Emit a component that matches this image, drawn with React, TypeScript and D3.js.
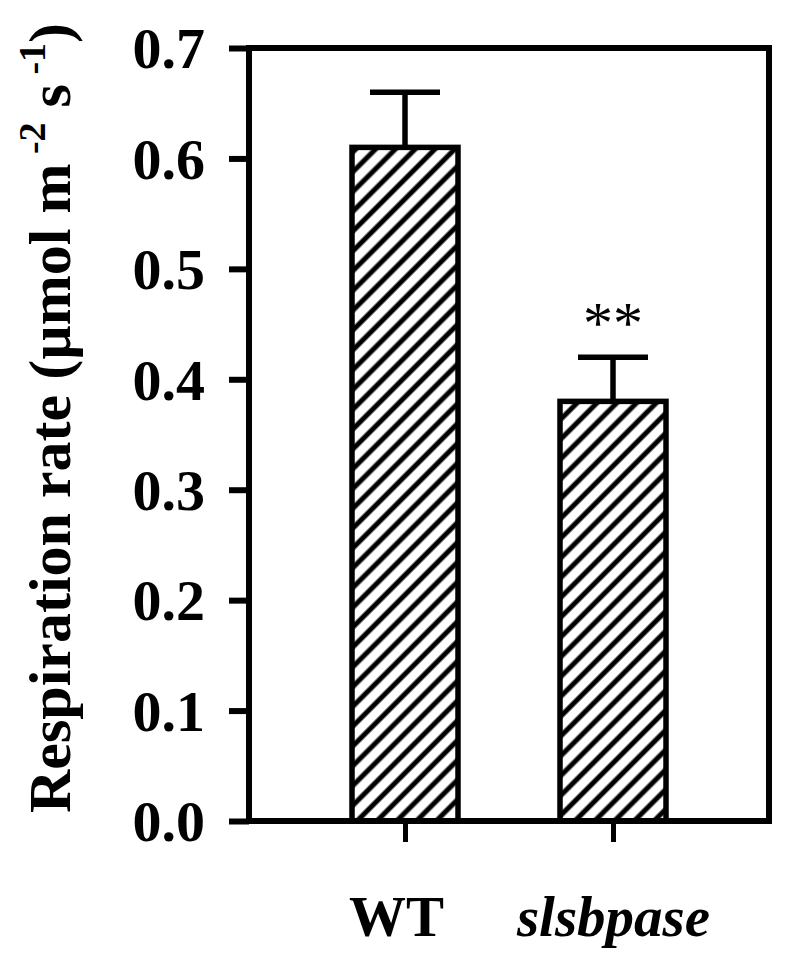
import React, { useEffect, useRef } from "react";
import * as d3 from "d3";

const groups = ["WT", "slsbpase"];
const means = [0.61, 0.38];
const errors = [0.05, 0.04];
const marks = ["", "**"];
const yTicks = [0, 0.1, 0.2, 0.3, 0.4, 0.5, 0.6, 0.7];

const W = 792;
const H = 964;

export default function App() {
  const ref = useRef<SVGSVGElement>(null);

  useEffect(() => {
    document.body.style.margin = "0";
    const svg = d3.select(ref.current);
    svg.selectAll("*").remove();

    const left = 249,
      right = 769,
      top = 48,
      bottom = 821;

    const x = d3.scalePoint().domain(groups).range([left, right]).padding(0.75);
    const y = d3.scaleLinear().domain([0, 0.7]).range([bottom, top]);
    const barW = 106;
    const capW = 70;
    const font = "'Liberation Serif', 'Times New Roman', serif";

    const defs = svg.append("defs");
    defs
      .append("pattern")
      .attr("id", "hatch")
      .attr("patternUnits", "userSpaceOnUse")
      .attr("width", 14)
      .attr("height", 14)
      .attr("patternTransform", "rotate(45)")
      .append("line")
      .attr("x1", 7)
      .attr("x2", 7)
      .attr("y1", 0)
      .attr("y2", 14)
      .attr("stroke", "#000")
      .attr("stroke-width", 5);

    const data = groups.map((g, i) => ({ g, v: means[i], e: errors[i], m: marks[i] }));

    // error bars (drawn first so bar outline covers the stem base)
    const eb = svg.append("g").attr("stroke", "#000").attr("stroke-width", 5.5);
    eb.selectAll(".stem")
      .data(data)
      .enter()
      .append("line")
      .attr("x1", (d) => x(d.g)!)
      .attr("x2", (d) => x(d.g)!)
      .attr("y1", (d) => y(d.v))
      .attr("y2", (d) => y(d.v + d.e));
    eb.selectAll(".cap")
      .data(data)
      .enter()
      .append("line")
      .attr("x1", (d) => x(d.g)! - capW / 2)
      .attr("x2", (d) => x(d.g)! + capW / 2)
      .attr("y1", (d) => y(d.v + d.e))
      .attr("y2", (d) => y(d.v + d.e));

    svg
      .append("g")
      .selectAll("rect")
      .data(data)
      .enter()
      .append("rect")
      .attr("x", (d) => x(d.g)! - barW / 2)
      .attr("width", barW)
      .attr("y", (d) => y(d.v))
      .attr("height", (d) => y(0) - y(d.v))
      .attr("fill", "url(#hatch)")
      .attr("stroke", "#000")
      .attr("stroke-width", 5.5);

    // significance marks
    svg
      .append("g")
      .selectAll("text")
      .data(data)
      .enter()
      .append("text")
      .attr("x", (d) => x(d.g)!)
      .attr("y", (d) => y(d.v + d.e) - 14)
      .attr("text-anchor", "middle")
      .style("font-family", font)
      .style("font-size", "60px")
      .text((d) => d.m);

    // frame
    svg
      .append("rect")
      .attr("x", left)
      .attr("y", top)
      .attr("width", right - left)
      .attr("height", bottom - top)
      .attr("fill", "none")
      .attr("stroke", "#000")
      .attr("stroke-width", 6);

    // y axis
    const yAxis = svg
      .append("g")
      .attr("transform", "translate(" + left + ",0)")
      .call(
        d3
          .axisLeft(y)
          .tickValues(yTicks)
          .tickSize(20)
          .tickPadding(24)
          .tickFormat(d3.format(".1f"))
      );
    yAxis.select(".domain").remove();
    yAxis.selectAll(".tick line").attr("stroke-width", 6);
    yAxis
      .selectAll(".tick text")
      .attr("dy", "0.34em")
      .attr("fill", "#000")
      .style("font-family", font)
      .style("font-weight", "bold")
      .style("font-size", "58px");

    // x axis
    const xAxis = svg
      .append("g")
      .attr("transform", "translate(0," + bottom + ")")
      .call(d3.axisBottom(x).tickSize(21).tickPadding(54));
    xAxis.select(".domain").remove();
    xAxis.selectAll(".tick line").attr("stroke-width", 5);
    xAxis
      .selectAll(".tick text")
      .attr("fill", "#000")
      .attr("dx", (d) => (d === "WT" ? -9 : 0))
      .style("font-family", font)
      .style("font-weight", "bold")
      .style("font-style", (d) => (d === "slsbpase" ? "italic" : "normal"))
      .style("font-size", "57px");

    // y title
    const title = svg
      .append("text")
      .attr("transform", "translate(70,418) rotate(-90)")
      .attr("text-anchor", "middle")
      .style("font-family", font)
      .style("font-weight", "bold")
      .style("font-size", "60px");
    title.append("tspan").text("Respiration rate (\u00b5mol m");
    title.append("tspan").attr("dy", -25).style("font-size", "38px").text(" -2");
    title.append("tspan").attr("dy", 25).text(" s");
    title.append("tspan").attr("dy", -25).style("font-size", "38px").text(" -1");
    title.append("tspan").attr("dy", 25).text(")");
  }, []);

  return <svg ref={ref} width={W} height={H} style={{ display: "block", background: "#fff" }} />;
}
